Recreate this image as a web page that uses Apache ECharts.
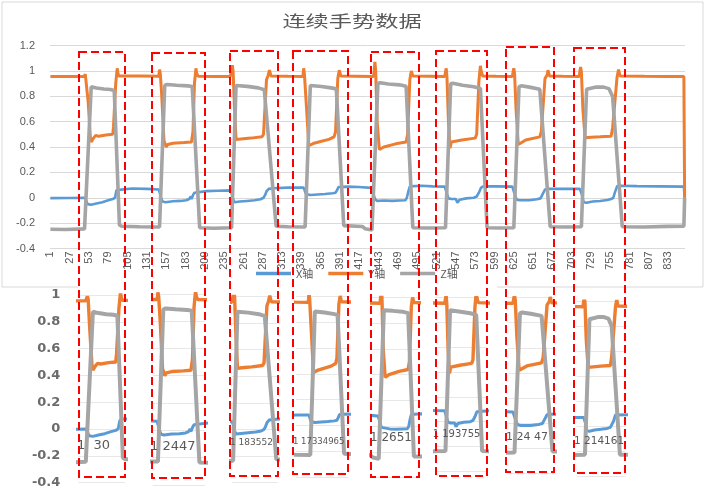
<!DOCTYPE html>
<html><head><meta charset="utf-8">
<script src="https://cdn.jsdelivr.net/npm/echarts@6/dist/echarts.min.js"></script>
<style>html,body{margin:0;padding:0;background:#fff}#c{width:706px;height:496px}</style>
</head><body><div id="c"></div>
<script>
// ---------- DATA ----------
const sampleCount = 855;
const categories = Array.from({length: sampleCount}, (_, i) => String(i + 1));
const seriesNames = ['X轴', 'Y轴', 'Z轴'];
const titleText = '连续手势数据';

// [sample index, value]
const xAxisValues = [[0,-0.003],[25,-0.002],[46,0.0],[48,-0.02],[50,-0.05],[55,-0.055],[62,-0.045],[70,-0.035],[78,-0.02],[84,-0.01],[87,0.0],[89,0.06],[91,0.075],[110,0.073],[130,0.07],[146,0.065],[149,0.0],[151,-0.03],[155,-0.035],[165,-0.028],[175,-0.025],[183,-0.02],[187,-0.01],[189,0.01],[190,-0.01],[192,0.02],[194,0.04],[196,0.048],[210,0.052],[225,0.055],[243,0.058],[246,-0.01],[248,-0.035],[255,-0.03],[265,-0.025],[275,-0.02],[283,-0.012],[287,0.0],[289,0.02],[291,0.05],[294,0.07],[300,0.075],[320,0.08],[341,0.08],[344,0.03],[346,0.015],[350,0.022],[360,0.026],[370,0.03],[380,0.035],[384,0.04],[386,0.06],[388,0.085],[400,0.088],[415,0.085],[432,0.078],[435,0.03],[437,-0.01],[440,-0.025],[450,-0.022],[460,-0.025],[470,-0.022],[478,-0.02],[480,0.0],[482,0.05],[484,0.09],[486,0.095],[500,0.095],[515,0.09],[531,0.088],[534,0.03],[536,-0.005],[540,-0.01],[546,-0.01],[548,-0.04],[550,-0.05],[551,-0.015],[560,-0.005],[570,0.0],[574,0.01],[577,0.04],[580,0.08],[583,0.09],[600,0.09],[622,0.088],[625,0.03],[628,-0.015],[632,-0.02],[645,-0.02],[655,-0.012],[660,-0.005],[663,0.03],[666,0.065],[670,0.07],[690,0.07],[713,0.07],[716,0.02],[718,-0.035],[722,-0.04],[730,-0.03],[740,-0.025],[750,-0.018],[755,-0.01],[758,0.0],[760,0.04],[763,0.09],[766,0.095],[790,0.092],[820,0.09],[853,0.088],[854,0]];

const yAxisValues = [[0,0.955],[46,0.957],[47,0.975],[48,0.99],[49,0.97],[51,0.75],[54,0.46],[55,0.44],[58,0.47],[61,0.49],[65,0.485],[75,0.495],[84,0.5],[85,0.56],[88,0.9],[89,0.96],[90,1.02],[91,0.98],[92,0.96],[120,0.96],[146,0.958],[147,1.01],[148,0.98],[150,0.8],[153,0.45],[156,0.4],[158,0.42],[165,0.43],[180,0.435],[190,0.44],[192,0.52],[194,0.9],[196,1.02],[197,0.98],[199,0.958],[220,0.955],[242,0.955],[244,1.0],[245,1.045],[246,1.0],[248,0.7],[250,0.46],[252,0.455],[260,0.465],[270,0.47],[285,0.48],[287,0.5],[291,0.93],[293,0.96],[295,1.005],[297,0.96],[320,0.957],[340,0.955],[341,1.02],[342,0.98],[345,0.7],[348,0.41],[350,0.405],[355,0.43],[365,0.445],[375,0.46],[382,0.48],[384,0.52],[387,0.94],[389,1.005],[391,0.96],[410,0.958],[435,0.955],[436,1.0],[437,1.07],[438,1.0],[440,0.6],[443,0.38],[445,0.37],[449,0.4],[465,0.425],[479,0.44],[481,0.5],[484,0.93],[486,1.0],[488,0.96],[510,0.958],[531,0.955],[532,0.99],[533,1.02],[534,0.95],[536,0.6],[538,0.39],[540,0.44],[554,0.455],[572,0.47],[574,0.5],[577,0.92],[579,1.04],[580,1.0],[582,0.96],[600,0.957],[622,0.955],[623,0.99],[624,1.02],[625,0.98],[627,0.7],[630,0.42],[633,0.43],[640,0.455],[659,0.48],[661,0.52],[666,0.94],[669,0.97],[670,1.005],[672,0.96],[690,0.957],[712,0.955],[713,1.0],[714,1.03],[715,0.99],[717,0.7],[720,0.47],[723,0.475],[740,0.48],[755,0.485],[757,0.55],[760,0.75],[763,0.95],[765,1.01],[767,0.96],[800,0.957],[830,0.955],[853,0.955],[854,0]];

const zAxisValues = [[0,-0.248],[20,-0.25],[46,-0.245],[55,0.875],[57,0.882],[62,0.865],[72,0.857],[81,0.853],[86,0.845],[93,-0.215],[96,-0.225],[120,-0.228],[147,-0.23],[154,0.885],[157,0.893],[170,0.887],[185,0.882],[191,0.876],[201,-0.236],[220,-0.24],[244,-0.236],[250,0.885],[252,0.892],[265,0.878],[280,0.866],[288,0.852],[304,-0.225],[320,-0.228],[343,-0.23],[350,0.885],[352,0.892],[365,0.877],[378,0.866],[385,0.858],[395,-0.22],[420,-0.226],[424,-0.245],[433,-0.255],[441,0.9],[444,0.906],[455,0.896],[470,0.89],[479,0.878],[488,-0.236],[510,-0.238],[532,-0.237],[539,0.898],[542,0.902],[555,0.887],[570,0.875],[579,0.862],[588,-0.237],[605,-0.238],[624,-0.237],[631,0.875],[634,0.882],[645,0.872],[659,0.855],[673,-0.228],[695,-0.23],[715,-0.228],[722,0.855],[735,0.872],[745,0.872],[752,0.86],[757,0.8],[770,-0.228],[800,-0.23],[830,-0.226],[853,-0.225],[854,0]];

// sample windows shown in the lower segmented panels
const segmentWindows = [[36.5,95.7],[140.2,208.3],[242,306],[321,401.5],[422,496],[516,595],[616,675],[702,778]];
const segmentTickLabels = ['1  30', '1 2447', '1 183552', '1 17334965', '1 2651', '1 193755', '1 24 47', '1 214161'];

// ---------- LAYOUT ----------
const colors = ['#5b9bd5', '#ed7d31', '#a5a5a5'];
const widths = [2.6, 3, 3.6];
const lowerRects = [
  [78.3,295,125,482.6],[152.7,293.8,205,484.8],[231.7,296.4,277.7,482.6],[296,296.6,348.3,476.9],
  [371.7,297.5,419,477.5],[435,297.7,486.7,471.3],[508.3,297.7,554,473],[576.7,301.1,625,476.2]
];
const labelPos = [[77,445.7,13],[150,447,13],[230,443,9],[293,441.7,8.5],[370,438.3,12],[432.7,434.3,10],[506,437.3,11],[574,441.7,10.5]];
const boxes = [[79,52,125,477],[152,53,205,478],[230,51,278,476],[293,51,348,474],[371,52,419,477],[436,51,487,476],[506,47,554,472],[574,48,625,473]];

const dataSets = [xAxisValues, yAxisValues, zAxisValues];

const grids = [{left:50, top:45.5, width:635, height:203, outerBoundsMode:'none'}];
const xAxes = [{
  type:'category', gridIndex:0, data:categories, boundaryGap:true,
  axisLine:{show:true, onZero:true, lineStyle:{color:'#d9d9d9', width:1}},
  axisTick:{show:false},
  axisLabel:{interval:25, rotate:90, fontSize:11, color:'#595959', margin:3, fontFamily:'Liberation Sans'},
  splitLine:{show:false}
}];
const yAxes = [{
  type:'value', gridIndex:0, min:-0.4, max:1.2, interval:0.2,
  axisLine:{show:false}, axisTick:{show:false},
  axisLabel:{fontSize:11, color:'#595959', margin:15, fontFamily:'Liberation Sans'},
  splitLine:{lineStyle:{color:'#d9d9d9', width:1}}
}];
const series = [];
dataSets.forEach((d, s) => {
  series.push({name:seriesNames[s], type:'line', xAxisIndex:0, yAxisIndex:0, data:d,
    showSymbol:false, symbol:'none', lineStyle:{color:colors[s], width:widths[s]}, itemStyle:{color:colors[s]}, animation:false, z:2+s});
});
lowerRects.forEach((r, k) => {
  const gi = k + 1;
  grids.push({left:r[0], top:r[1], width:r[2]-r[0], height:r[3]-r[1], outerBoundsMode:'none'});
  xAxes.push({type:'value', gridIndex:gi, min:segmentWindows[k][0], max:segmentWindows[k][1], show:false});
  yAxes.push({type:'value', gridIndex:gi, min:-0.4, max:1, interval:0.2,
    axisLine:{show:false}, axisTick:{show:false},
    axisLabel:{show:k===0, fontSize:13, fontWeight:'bold', color:'#6b6b6b', margin:18, fontFamily:'DejaVu Sans'},
    splitLine:{lineStyle:{color:'#e8e8e8', width:1}}});
  dataSets.forEach((d, s) => {
    series.push({name:seriesNames[s], type:'line', xAxisIndex:gi, yAxisIndex:gi, data:d, clip:true,
      showSymbol:false, symbol:'none', lineStyle:{color:colors[s], width:widths[s]+0.4}, itemStyle:{color:colors[s]}, animation:false, z:2+s});
  });
});

const graphic = [
  {type:'polyline', z:0, silent:true, shape:{points:[[78,287],[2,287],[2,2],[703,2],[703,287],[497,287]]}, style:{stroke:'#d9d9d9', fill:null, lineWidth:1}},
  {type:'text', x:352, y:21, scaleX:1.45, z:10, style:{text:titleText, align:'center', verticalAlign:'middle', fontSize:16, fill:'#595959', fontFamily:'Noto Sans CJK SC'}}
];
segmentTickLabels.forEach((t, k) => {
  graphic.push({type:'text', x:labelPos[k][0], y:labelPos[k][1], z:10, style:{text:t, align:'left', verticalAlign:'middle', fontSize:labelPos[k][2], fill:'#595959', fontFamily:'DejaVu Sans'}});
});
boxes.forEach(b => {
  graphic.push({type:'rect', z:100, silent:true, shape:{x:b[0], y:b[1], width:b[2]-b[0], height:b[3]-b[1]},
    style:{fill:null, stroke:'#ff0000', lineWidth:2, lineDash:[8,4]}});
});

const chart = echarts.init(document.getElementById('c'), null, {renderer:'canvas'});
chart.setOption({
  animation:false,
  backgroundColor:'#ffffff',
  legend:{data:seriesNames, left:251, top:263, icon:'rect', itemWidth:35, itemHeight:3.5, itemGap:15,
    textStyle:{fontSize:11, color:'#595959', fontFamily:'Noto Sans CJK SC'}},
  grid:grids, xAxis:xAxes, yAxis:yAxes, series:series, graphic:graphic
});
</script></body></html>
